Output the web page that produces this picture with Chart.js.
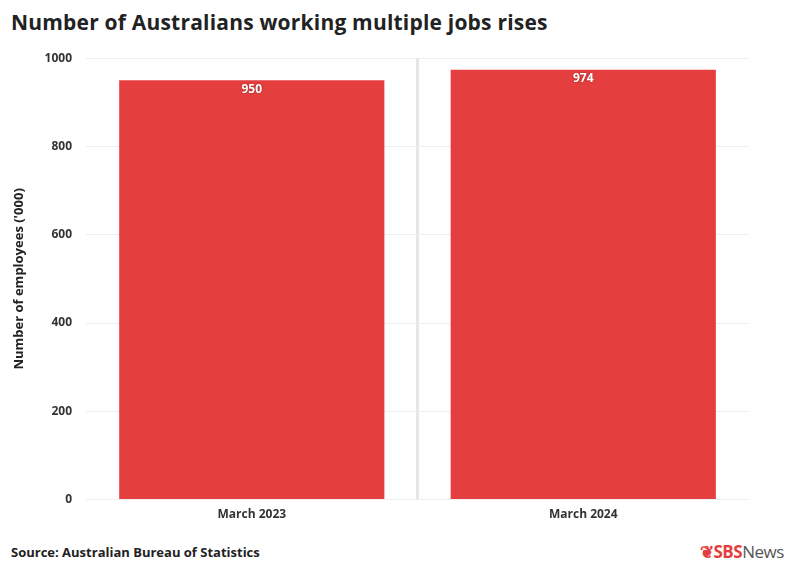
<!DOCTYPE html>
<html><head><meta charset="utf-8">
<script src="https://cdn.jsdelivr.net/npm/chart.js@4"></script>
<style>
body{margin:0;width:796px;height:575px;background:#fff;font-family:"Open Sans",sans-serif;position:relative;overflow:hidden}
#t{position:absolute;left:11px;top:8px;font-size:21px;font-weight:bold;color:#222;letter-spacing:0.2px}
#s{position:absolute;left:11px;top:543px;font-size:13px;font-weight:bold;color:#222}
#l{position:absolute;left:700px;top:540px;font-size:17px;color:#555;letter-spacing:-0.5px}
#l b{color:#e53e3e}
#c{position:absolute;left:0;top:37px;width:796px;height:493px}
</style></head><body>
<div id="t">Number of Australians working multiple jobs rises</div>
<div id="c"><canvas id="cv"></canvas></div>
<div id="s">Source: Australian Bureau of Statistics</div>
<div id="l"><b>❦SBS</b>News</div>
<script>
const categories=["March 2023","March 2024"];
const employees=[950,974];
const yTicks=[0,200,400,600,800,1000];
const labelPlugin={id:'lbl',afterDatasetsDraw(ch){const c=ch.ctx;const m=ch.getDatasetMeta(0);c.save();c.fillStyle='#fff';c.font='bold 12px "Open Sans"';c.textAlign='center';c.textBaseline='top';m.data.forEach((b,i)=>{c.shadowColor='rgba(0,0,0,0.4)';c.shadowBlur=2;c.fillText(employees[i],b.x,b.y+3)});c.restore();}};
new Chart(document.getElementById('cv'),{type:'bar',
data:{labels:categories,datasets:[{data:employees,backgroundColor:'#e53e3e',barPercentage:0.8,categoryPercentage:1}]},
options:{responsive:true,maintainAspectRatio:false,animation:false,
layout:{padding:{right:47,top:6,left:7}},
plugins:{legend:{display:false},tooltip:{enabled:false}},
scales:{
x:{grid:{offset:true,lineWidth:3,color:c=>c.index===1?'#e6e6e6':'rgba(0,0,0,0)',drawTicks:false},border:{display:false},ticks:{color:'#333',font:{family:'Open Sans',size:12,weight:'bold'},padding:8}},
y:{min:0,max:1000,afterBuildTicks:a=>{a.ticks=yTicks.map(v=>({value:v}))},grid:{color:'#eeeeee',drawTicks:false},border:{display:false},
ticks:{color:'#333',font:{family:'Open Sans',size:12,weight:'bold'},padding:14,callback:v=>String(v)},
title:{display:true,text:"Number of employees ('000)",color:'#222',font:{family:'Open Sans',size:13,weight:'bold'}}}
}},plugins:[labelPlugin]});
</script></body></html>
